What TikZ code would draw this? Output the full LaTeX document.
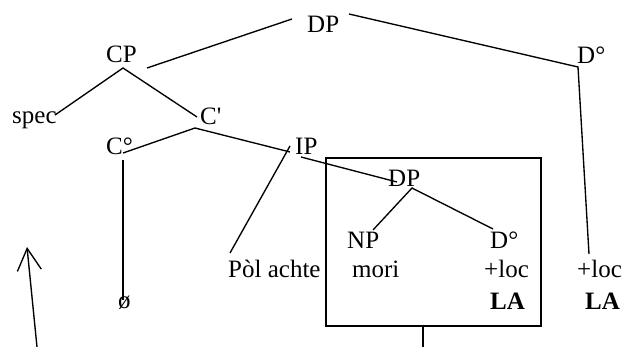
\documentclass[tikz,border=0pt]{standalone}
\usepackage{fontspec}
\setmainfont{Liberation Serif}
\newfontfamily\nomap{Liberation Serif}[Ligatures=TeXOff]
\usetikzlibrary{arrows.meta}
\begin{document}
\begin{tikzpicture}[x=1pt,y=-1pt,
  lbl/.style={anchor=base west,inner sep=0pt,font=\fontsize{25}{30}\selectfont},
  edge/.style={line width=1.35pt},
  boxstyle/.style={draw,line width=1.35pt,inner sep=0pt,minimum width=215pt,minimum height=168pt}]
\useasboundingbox (0,0) rectangle (623,347);
% labels
\node[lbl] (DPtop) at (307,33) {DP};
\node[lbl] (Dtop) at (577,64) {D°};
\node[lbl] (CP) at (106,63) {CP};
\node[lbl] (spec) at (12,124) {spec};
\node[lbl] (Cbar) at (200,125) {\nomap C'};
\node[lbl] (Czero) at (106,155) {C°};
\node[lbl] (IP) at (295,155) {IP};
\node[lbl] (DPin) at (388,187) {DP};
\node[lbl] (NP) at (347,248) {NP};
\node[lbl] (Din) at (490,248) {D°};
\node[lbl] (pol) at (228,277) {Pòl achte};
\node[lbl] (mori) at (352,277) {mori};
\node[lbl] (locin) at (484,277) {+loc};
\node[lbl] (locout) at (577,277) {+loc};
\node[lbl,font=\fontsize{25}{30}\selectfont\bfseries] (LAin) at (490,309) {LA};
\node[lbl,font=\fontsize{25}{30}\selectfont\bfseries] (LAout) at (585,309) {LA};
\node[lbl] (null) at (118,308) {ø};
\node[boxstyle] (box) at (433.5,242) {};
% connector end points
\coordinate (dpA) at (292,19);  \coordinate (cpA) at (147,68);
\coordinate (dpB) at (349,14);  \coordinate (dB) at (578,67);
\coordinate (locA) at (589,254);
\coordinate (cpT) at (123,68);  \coordinate (specT) at (55,115);
\coordinate (cbarB) at (197,117);
\coordinate (cbarT) at (195,128); \coordinate (czT) at (123,153);
\coordinate (ipA) at (290,152);
\coordinate (czB) at (123,160); \coordinate (nullT) at (123,300);
\coordinate (ipB) at (290,146); \coordinate (polT) at (230,253);
\coordinate (ipC) at (301,157); \coordinate (dpinA) at (397,182);
\coordinate (dpinT) at (412,188); \coordinate (npT) at (373,230);
\coordinate (dinT) at (493,229);
\coordinate (boxout) at (423,326); \coordinate (boxend) at (423,347);
\coordinate (arrS) at (37,347); \coordinate (arrE) at (27,247);
% connectors
\draw[edge] (dpA) -- (cpA);
\draw[edge] (dpB) -- (dB) -- (locA);
\draw[edge] (specT) -- (cpT) -- (cbarB);
\draw[edge] (czT) -- (cbarT) -- (ipA);
\draw[edge] (czB) -- (nullT);
\draw[edge] (ipB) -- (polT);
\draw[edge] (ipC) -- (dpinA);
\draw[edge] (npT) -- (dpinT) -- (dinT);
\draw[edge] (boxout) -- (boxend);
\draw[edge,-{Straight Barb[length=22pt,width=24pt,line width=1.35pt]}] (arrS) -- (arrE);
\end{tikzpicture}
\end{document}
